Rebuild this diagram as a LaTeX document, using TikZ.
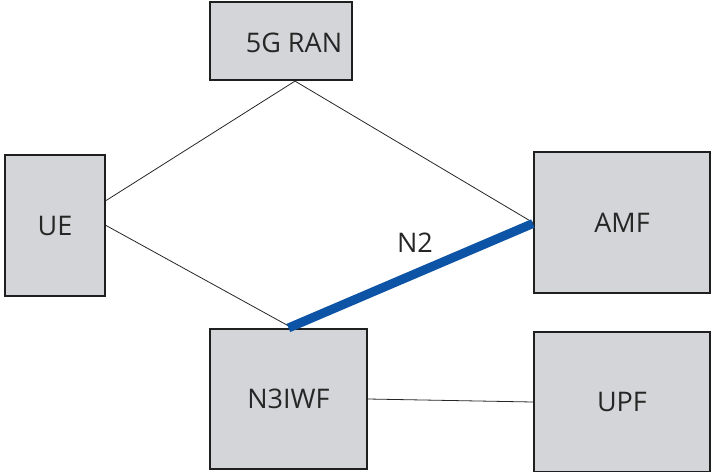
\documentclass[tikz,border=0pt]{standalone}
\usepackage{fontspec}
\setmainfont{Open Sans}
\begin{document}
\begin{tikzpicture}[x=1pt,y=-1pt,
  nf/.style={draw=black!88, line width=2.2pt, fill={rgb,255:red,212;green,213;blue,216}, inner sep=0pt, font=\fontsize{27}{30}\selectfont, text=black!85},
  lbl/.style={font=\fontsize{27}{30}\selectfont, text=black!85, inner sep=0pt},
  thin/.style={draw=black!85, line width=0.8pt},
  ntwo/.style={draw={rgb,255:red,14;green,84;blue,166}, line width=9pt}]
\clip (0,0) rectangle (711,471);
\node[nf, minimum width=142pt, minimum height=78pt, label={[lbl, xshift=13pt, yshift=-2pt]center:5G RAN}] (ran) at (281,41) {};
\node[nf, minimum width=100pt, minimum height=141pt] (ue) at (55,225.5) {UE};
\node[nf, minimum width=176pt, minimum height=141pt] (amf) at (622,222.5) {AMF};
\node[nf, minimum width=157pt, minimum height=140pt] (n3) at (288.5,399) {N3IWF};
\node[nf, minimum width=176pt, minimum height=140pt] (upf) at (622,402) {UPF};
\draw[thin] ([xshift=14pt]ran.south) -- ([yshift=25pt]ue.east);
\draw[thin] ([xshift=14pt]ran.south) -- (amf.west);
\draw[thin] (ue.east) -- ([yshift=2pt]n3.north);
\draw[thin] (n3.east) -- (upf.west);
\draw[ntwo] (n3.north) -- ([yshift=-1pt]amf.west);
\node[lbl] (n2) at (415,243) {N2};
\end{tikzpicture}
\end{document}
